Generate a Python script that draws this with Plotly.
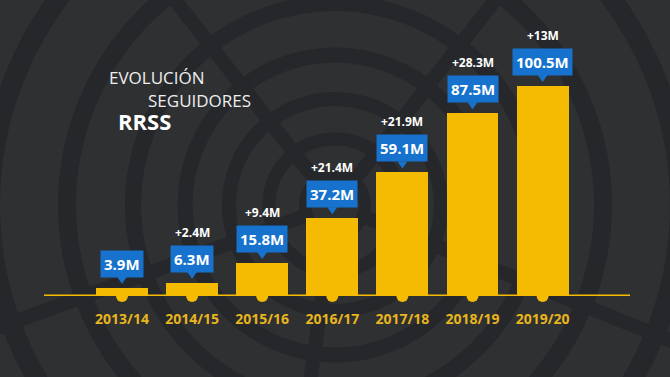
import math
import plotly.graph_objects as go

# ---- data ----
seasons = ["2013/14", "2014/15", "2015/16", "2016/17", "2017/18", "2018/19", "2019/20"]
followers = [3.9, 6.3, 15.8, 37.2, 59.1, 87.5, 100.5]   # millions
growth = [None, 2.4, 9.4, 21.4, 21.9, 28.3, 13]          # millions added vs previous season
title_lines = ["EVOLUCIÓN", "SEGUIDORES", "RRSS"]

# ---- style ----
W, H = 670, 377
BG = "#2e3032"
DARK = "#25272a"
YELLOW = "#f5bb02"
BLUE = "#1672cc"
LABEL_YELLOW = "#e8b51e"
FONT = "Open Sans"

fig = go.Figure()

fig.add_trace(go.Bar(
    x=seasons, y=followers, width=0.74,
    marker=dict(color=YELLOW, line=dict(width=0)),
    hoverinfo="skip",
))
fig.add_trace(go.Scatter(
    x=seasons, y=[0 for _ in seasons], mode="markers",
    marker=dict(color=YELLOW, size=12), cliponaxis=False, hoverinfo="skip",
))

shapes = []

def px(x):
    return x / W

def py(y):
    return 1 - y / H

# decorative concentric background pattern
cx, cy = 335, 205
for r, w in [(30, 12), (66, 13), (106, 14), (150, 15), (202, 16), (268, 18), (345, 20)]:
    shapes.append(dict(type="circle", xref="paper", yref="paper",
                       x0=px(cx - r), x1=px(cx + r), y0=py(cy + r), y1=py(cy - r),
                       line=dict(color=DARK, width=w), layer="below"))
for ang in [128, 52, 200, 338, 262]:
    a = math.radians(ang)
    shapes.append(dict(type="line", xref="paper", yref="paper",
                       x0=px(cx + 25 * math.cos(a)), y0=py(cy - 25 * math.sin(a)),
                       x1=px(cx + 420 * math.cos(a)), y1=py(cy - 420 * math.sin(a)),
                       line=dict(color=DARK, width=14), layer="below"))

# baseline
shapes.append(dict(type="line", xref="paper", yref="y", x0=44 / W, x1=630 / W, y0=0, y1=0,
                   line=dict(color=YELLOW, width=3), layer="above"))

annotations = []
for i, (s, v, g) in enumerate(zip(seasons, followers, growth)):
    shapes.append(dict(type="path", xref="x", yref="y", xsizemode="pixel", ysizemode="pixel",
                       xanchor=i, yanchor=v, path="M -5,11 L 5,11 L 0,4 Z",
                       fillcolor=BLUE, line=dict(width=0), layer="above"))
    annotations.append(dict(x=s, y=v, xref="x", yref="y", text=f"<b>{v:g}M</b>",
                            showarrow=False, yanchor="bottom", yshift=10,
                            bgcolor=BLUE, borderpad=3,
                            font=dict(family=FONT, size=15, color="white")))
    if g is not None:
        annotations.append(dict(x=s, y=v, xref="x", yref="y", text=f"<b>+{g:g}M</b>",
                                showarrow=False, yanchor="bottom", yshift=40,
                                font=dict(family=FONT, size=12, color="white")))

# title
annotations.append(dict(x=107 / W, y=py(78), xref="paper", yref="paper", text=title_lines[0],
                        showarrow=False, xanchor="left", yanchor="middle",
                        font=dict(family=FONT, size=17, color="#eeeeee")))
annotations.append(dict(x=146 / W, y=py(100), xref="paper", yref="paper", text=title_lines[1],
                        showarrow=False, xanchor="left", yanchor="middle",
                        font=dict(family=FONT, size=17, color="#eeeeee")))
annotations.append(dict(x=116 / W, y=py(121), xref="paper", yref="paper", text=f"<b>{title_lines[2]}</b>",
                        showarrow=False, xanchor="left", yanchor="middle",
                        font=dict(family=FONT, size=22, color="white")))

base_px = 296
px_per_m = 2.09
fig.update_layout(
    width=W, height=H,
    margin=dict(l=0, r=0, t=0, b=0),
    paper_bgcolor=BG, plot_bgcolor="rgba(0,0,0,0)",
    showlegend=False, bargap=0,
    shapes=shapes, annotations=annotations,
    xaxis=dict(type="category", range=[-122 / 70.1, (W - 122) / 70.1],
               showgrid=False, zeroline=False, showline=False,
               ticks="outside", ticklen=10, tickcolor="rgba(0,0,0,0)",
               tickfont=dict(family=FONT, size=14, color=LABEL_YELLOW, weight="bold")),
    yaxis=dict(domain=[(H - base_px) / H, 1], range=[0, base_px / px_per_m],
               visible=False, showgrid=False, zeroline=False),
)

fig.write_html("out.html", config=dict(displayModeBar=False),
               post_script="document.body.style.margin='0';document.body.style.overflow='hidden';")
